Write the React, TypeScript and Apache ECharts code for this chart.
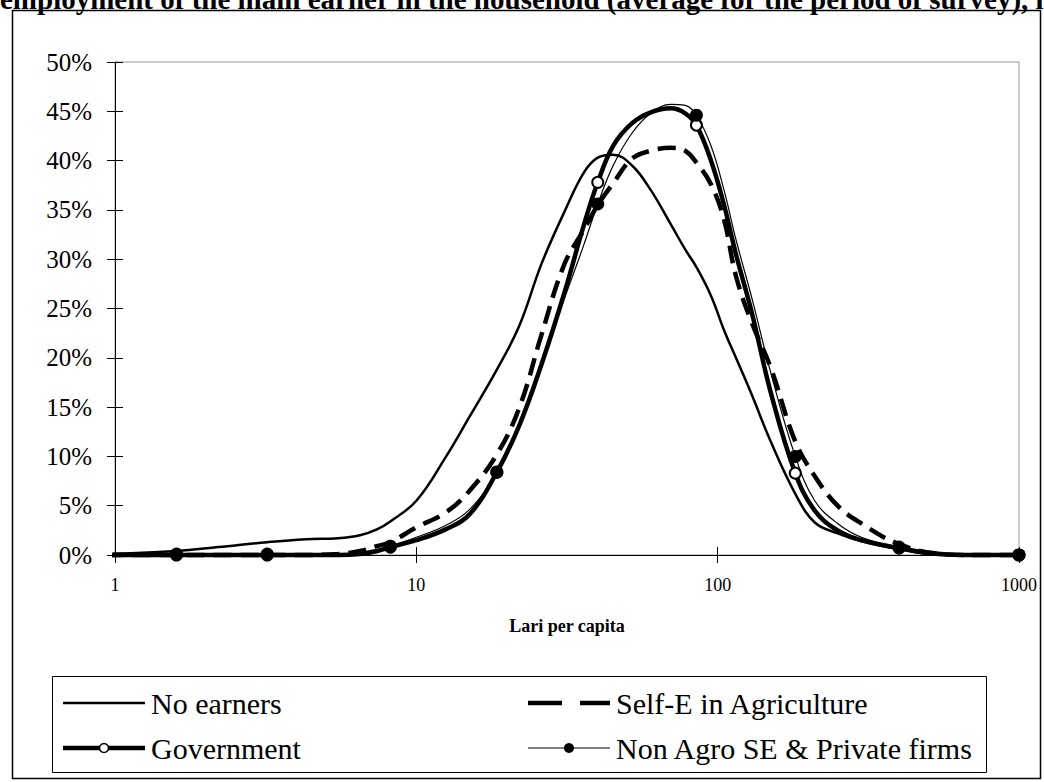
import React, { useEffect, useRef } from "react";
import * as echarts from "echarts";

const X_VALUES = [0.93, 1.6, 2.2, 3.2, 4.3, 5.5, 6.5, 7.4, 8.2, 10, 12.5, 15, 18.5, 22, 26, 31, 36, 40, 45, 52, 60, 70, 78, 85, 95, 105, 115, 130, 150, 181, 210, 250, 300, 400, 550, 700, 1000];
const MARKER_X = [1.6, 3.2, 8.2, 18.5, 40, 85, 181, 400, 1000];

const NO_EARNERS = [0.1, 0.4, 0.8, 1.3, 1.6, 1.7, 2.0, 2.6, 3.4, 5.5, 9.9, 14, 18.8, 23.3, 29.5, 34.8, 38.8, 40.3, 40.6, 39.5, 37, 33.5, 31, 29.2, 26.3, 22.8, 20, 16.2, 11.5, 6.2, 3.3, 2.2, 1.4, 0.6, 0, 0, 0];
const SELF_E_AGRI = [0, 0, 0, 0, 0, 0.1, 0.4, 0.9, 1.3, 2.8, 4.3, 6.5, 10.2, 15, 22.3, 29.5, 33, 35.5, 37.7, 40.2, 41, 41.3, 41, 39.8, 37.6, 34, 28.3, 23.5, 19, 11.5, 8, 5, 3.2, 1.1, 0.1, 0, 0];
const GOVERNMENT = [0, 0, 0, 0, 0, 0, 0.1, 0.4, 0.8, 1.5, 2.6, 4.1, 8.4, 13.2, 19.3, 26.6, 33.5, 37.8, 41.5, 43.8, 44.9, 45.3, 44.8, 43.6, 40, 35.5, 30.5, 24.5, 16.5, 8.3, 4.5, 2.5, 1.5, 0.7, 0.1, 0, 0];
const NON_AGRO = [0, 0.1, 0.1, 0.1, 0.1, 0.1, 0.2, 0.5, 0.9, 1.8, 3, 4.6, 8.4, 13.5, 19.5, 26, 31.5, 35.6, 39.5, 42.8, 44.8, 45.7, 45.6, 44.6, 41.5, 37, 32, 26, 18.5, 10, 5.5, 3.2, 1.8, 0.8, 0.1, 0, 0];

const SERIES_NAMES = ["No earners", "Self-E in Agriculture", "Government", "Non Agro SE & Private firms"];
const X_TICKS = [1, 10, 100, 1000];
const TITLE = "employment of the main earner in the household (average for the period of survey), lari per capita";

const FONT = "'Liberation Serif', 'Times New Roman', serif";

function build(values: number[], markers: boolean) {
  return X_VALUES.map((x, i) => {
    const item: any = { value: [x, values[i]] };
    if (!markers || !MARKER_X.includes(x)) item.symbol = "none";
    return item;
  });
}

function legendText(text: string, x: number, y: number) {
  return {
    type: "text",
    silent: true,
    x,
    y,
    style: { text, fontFamily: FONT, fontSize: 30, fill: "#000", verticalAlign: "middle", align: "left" },
    z: 10,
  };
}

export default function App() {
  const ref = useRef<HTMLDivElement>(null);
  useEffect(() => {
    document.body.style.margin = "0";
    if (!ref.current) return;
    const chart = echarts.init(ref.current, null, { renderer: "svg" });
    const axisColor = "#000";
    const r1 = 703;
    const r2 = 748;
    const c1 = 63;
    const c2 = 528;
    const iw = 82;
    const option: any = {
      animation: false,
      backgroundColor: "#fff",
      textStyle: { fontFamily: FONT, color: "#000" },
      grid: {
        left: 115,
        right: 25,
        top: 62,
        bottom: 227,
        show: true,
        borderColor: "#999",
        borderWidth: 1,
        backgroundColor: "transparent",
      },
      xAxis: [
        {
          type: "log",
          logBase: 10,
          min: 1,
          max: 1000,
          name: "Lari per capita",
          nameLocation: "middle",
          nameGap: 62,
          nameTextStyle: { fontFamily: FONT, fontWeight: "bold", fontSize: 18, color: "#000" },
          axisLine: { show: true, lineStyle: { color: axisColor, width: 1 } },
          axisTick: { show: true, inside: false, length: 8, lineStyle: { color: axisColor } },
          axisLabel: {
            margin: 21,
            fontFamily: FONT,
            fontSize: 18,
            color: "#000",
            formatter: (v: number) => (X_TICKS.includes(Math.round(v)) ? String(Math.round(v)) : ""),
          },
          splitLine: { show: false },
          minorTick: { show: false },
        },
        {
          type: "log",
          logBase: 10,
          min: 1,
          max: 1000,
          position: "bottom",
          axisLine: { show: false },
          axisTick: { show: true, inside: true, length: 8, lineStyle: { color: axisColor } },
          axisLabel: { show: false },
          splitLine: { show: false },
        },
      ],
      yAxis: [
        {
          type: "value",
          min: 0,
          max: 50,
          interval: 5,
          axisLine: { show: true, lineStyle: { color: axisColor, width: 1 } },
          axisTick: { show: true, inside: false, length: 8, lineStyle: { color: axisColor } },
          axisLabel: { margin: 23, fontFamily: FONT, fontSize: 25, color: "#000", formatter: "{value}%" },
          splitLine: { show: false },
        },
        {
          type: "value",
          min: 0,
          max: 50,
          interval: 5,
          position: "left",
          axisLine: { show: false },
          axisTick: { show: true, inside: true, length: 8, lineStyle: { color: axisColor } },
          axisLabel: { show: false },
          splitLine: { show: false },
        },
      ],
      series: [
        {
          name: SERIES_NAMES[0],
          type: "line",
          data: build(NO_EARNERS, false),
          smooth: 0.4,
          clip: false,
          symbol: "none",
          showSymbol: false,
          color: "#000",
          lineStyle: { color: "#000", width: 2.5 },
          emphasis: { disabled: true },
          z: 2,
        },
        {
          name: SERIES_NAMES[1],
          type: "line",
          data: build(SELF_E_AGRI, false),
          smooth: 0.4,
          clip: false,
          symbol: "none",
          showSymbol: false,
          color: "#000",
          lineStyle: { color: "#000", width: 4.5, type: [18, 9] },
          emphasis: { disabled: true },
          z: 3,
        },
        {
          name: SERIES_NAMES[2],
          type: "line",
          data: build(GOVERNMENT, true),
          smooth: 0.4,
          clip: false,
          symbol: "emptyCircle",
          symbolSize: 11,
          showSymbol: true,
          showAllSymbol: true,
          color: "#000",
          itemStyle: { color: "#000", borderColor: "#000", borderWidth: 1.2 },
          lineStyle: { color: "#000", width: 4.5 },
          emphasis: { disabled: true },
          z: 4,
        },
        {
          name: SERIES_NAMES[3],
          type: "line",
          data: build(NON_AGRO, true),
          smooth: 0.4,
          clip: false,
          symbol: "circle",
          symbolSize: 13,
          showSymbol: true,
          showAllSymbol: true,
          color: "#000",
          itemStyle: { color: "#000" },
          lineStyle: { color: "#000", width: 1.2 },
          emphasis: { disabled: true },
          z: 5,
        },
      ],
      graphic: [
        {
          type: "text",
          left: 0,
          top: -16,
          silent: true,
          style: { text: TITLE, fontFamily: FONT, fontWeight: "bold", fontSize: 29, fill: "#000" },
        },
        {
          type: "rect",
          silent: true,
          shape: { x: 12.5, y: 10.5, width: 1028, height: 768 },
          style: { fill: "none", stroke: "#000", lineWidth: 1.5 },
          z: -10,
        },
        {
          type: "rect",
          silent: true,
          shape: { x: 52.5, y: 676.5, width: 934, height: 96 },
          style: { fill: "none", stroke: "#000", lineWidth: 1 },
          z: -10,
        },
        { type: "line", silent: true, shape: { x1: c1, y1: r1, x2: c1 + iw, y2: r1 }, style: { stroke: "#000", lineWidth: 2.5 }, z: 10 },
        legendText(SERIES_NAMES[0], c1 + iw + 6, r1),
        { type: "line", silent: true, shape: { x1: c1, y1: r2, x2: c1 + iw, y2: r2 }, style: { stroke: "#000", lineWidth: 4.5 }, z: 10 },
        { type: "circle", silent: true, shape: { cx: c1 + iw / 2, cy: r2, r: 4.5 }, style: { fill: "#fff", stroke: "#000", lineWidth: 1.5 }, z: 11 },
        legendText(SERIES_NAMES[2], c1 + iw + 6, r2),
        { type: "line", silent: true, shape: { x1: c2, y1: r1, x2: c2 + 34, y2: r1 }, style: { stroke: "#000", lineWidth: 4.5 }, z: 10 },
        { type: "line", silent: true, shape: { x1: c2 + 52, y1: r1, x2: c2 + iw, y2: r1 }, style: { stroke: "#000", lineWidth: 4.5 }, z: 10 },
        legendText(SERIES_NAMES[1], c2 + iw + 6, r1),
        { type: "line", silent: true, shape: { x1: c2, y1: r2, x2: c2 + iw, y2: r2 }, style: { stroke: "#000", lineWidth: 1.2 }, z: 10 },
        { type: "circle", silent: true, shape: { cx: c2 + iw / 2, cy: r2, r: 5 }, style: { fill: "#000", stroke: "#000", lineWidth: 0 }, z: 11 },
        legendText(SERIES_NAMES[3], c2 + iw + 6, r2),
      ],
    };
    chart.setOption(option);
    return () => chart.dispose();
  }, []);
  return <div ref={ref} style={{ width: 1044, height: 782 }} />;
}
